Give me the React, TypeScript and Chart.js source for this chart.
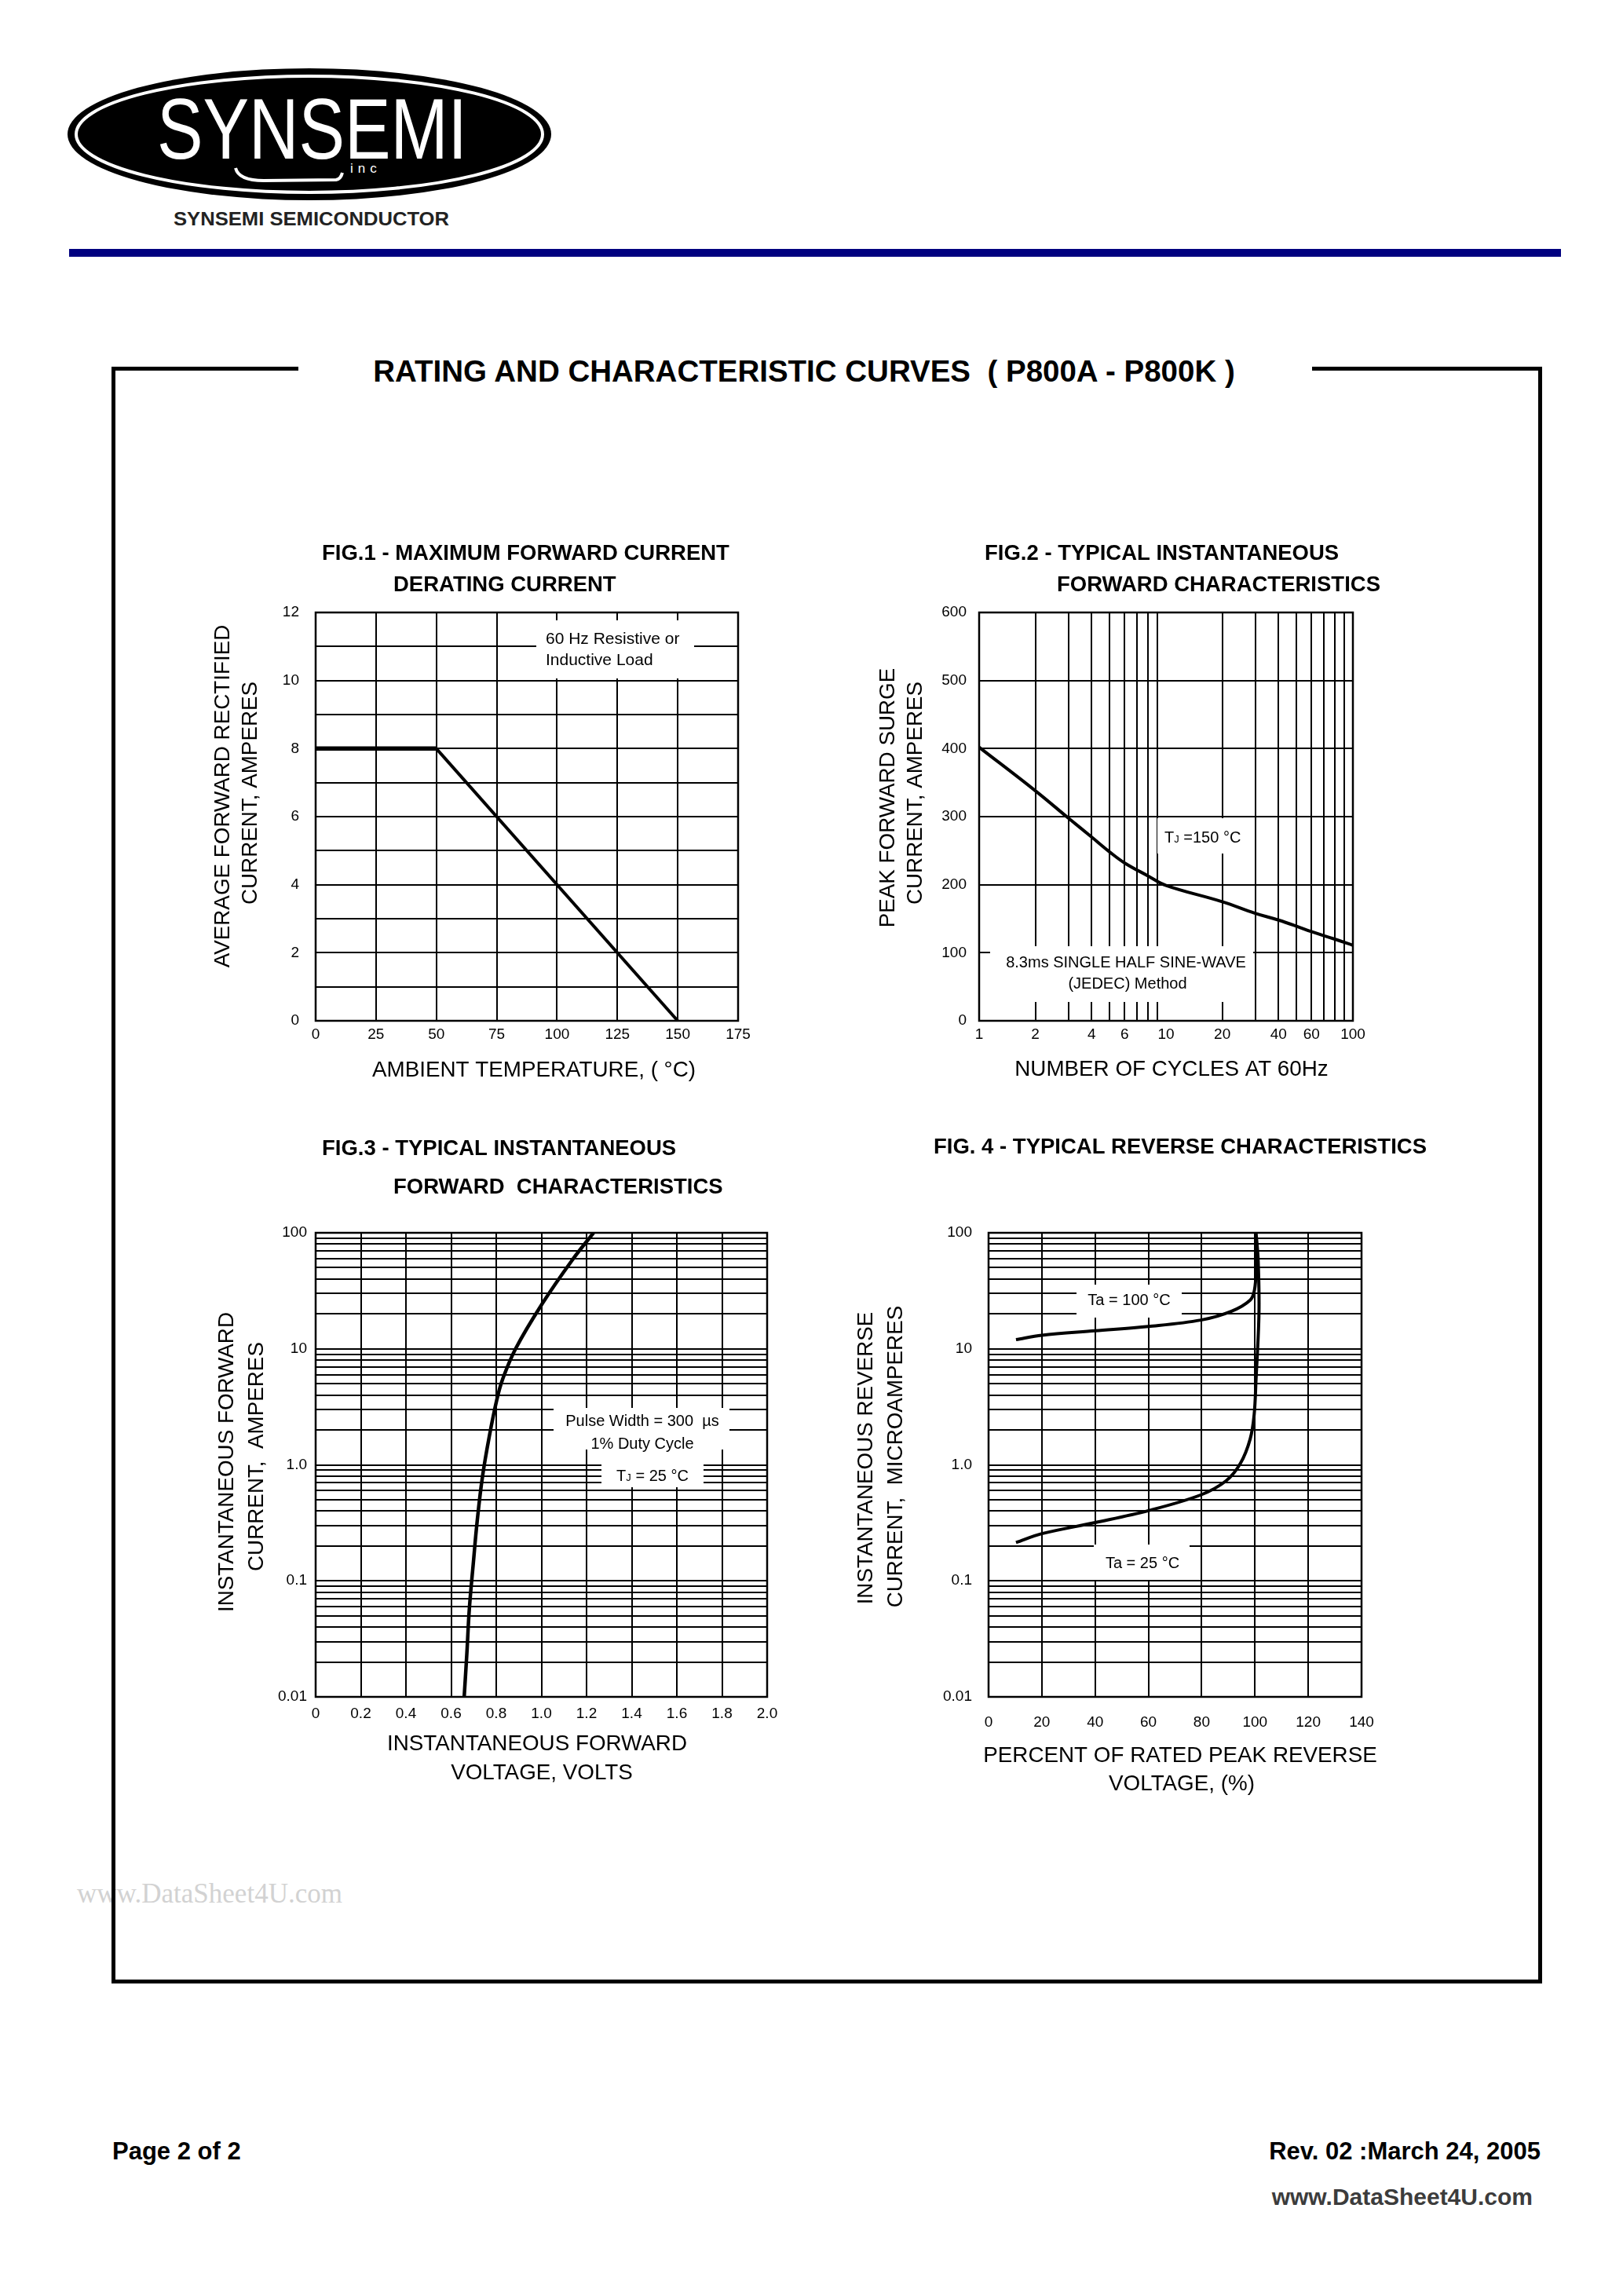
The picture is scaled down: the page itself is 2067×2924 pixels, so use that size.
import React, { useEffect, useRef } from 'react';
import { Chart, registerables } from 'chart.js';

Chart.register(...registerables);

const FONT = "'Liberation Sans', Arial, Helvetica, sans-serif";
const SERIF = "'Liberation Serif', 'Times New Roman', serif";

// ---------- FIG.1 data ----------
const FIG1_TEMPERATURE = [0, 50, 150];
const FIG1_CURRENT = [8, 8, 0];
const FIG1_Y_LABELED = [0, 2, 4, 6, 8, 10, 12];

// ---------- FIG.2 data ----------
const FIG2_CYCLES = [1, 2, 3, 4, 5, 6, 8, 10, 20, 30, 40, 50, 60, 80, 100];
const FIG2_SURGE = [402, 338, 298, 270, 248, 232, 213, 199, 175, 158, 148, 139, 131, 120, 111];
const FIG2_GRID_CYCLES = [1, 2, 3, 4, 5, 6, 7, 8, 9, 10, 20, 30, 40, 50, 60, 70, 80, 90, 100];
const FIG2_X_LABELED = [1, 2, 4, 6, 10, 20, 40, 60, 100];
const FIG2_HIDDEN_GRID = [10];

// ---------- FIG.3 data ----------
const FIG3_VOLTS = [0.658, 0.67, 0.681, 0.698, 0.716, 0.739, 0.769, 0.803, 0.828, 0.886, 1.002, 1.136, 1.231];
const FIG3_AMPS = [0.01, 0.024, 0.058, 0.139, 0.333, 0.79, 1.75, 3.67, 5.45, 10.05, 24.2, 58, 100];

// ---------- FIG.4 data ----------
const FIG4_PCT_100C = [10.3, 20, 40, 60, 79.7, 91.2, 98.2, 99.8, 100.5, 100.5, 100.2];
const FIG4_UA_100C = [12.0, 13.1, 14.3, 15.6, 17.7, 21.1, 26.3, 32, 50, 75, 100];
const FIG4_PCT_25C = [10.3, 20, 40, 60, 79.7, 89.2, 94.6, 98.2, 99.7, 100.4, 101.5, 101.2, 100.4];
const FIG4_UA_25C = [0.214, 0.255, 0.318, 0.403, 0.551, 0.729, 1.035, 1.67, 2.71, 5.45, 20.2, 57.8, 100];

// ---------- log grid shared by FIG.3 / FIG.4 ----------
const LOG_GRID = [
  0.01, 0.02, 0.03, 0.04, 0.05, 0.06, 0.07, 0.08, 0.09,
  0.1, 0.2, 0.3, 0.4, 0.5, 0.6, 0.7, 0.8, 0.9,
  1, 2, 3, 4, 5, 6, 7, 8, 9,
  10, 20, 30, 40, 50, 60, 70, 80, 90,
  100,
];
const LOG_LABEL_VALUES = [0.01, 0.1, 1, 10, 100];
const LOG_LABEL_TEXT = ['0.01', '0.1', '1.0', '10', '100'];

type Rect = { x: number; y: number; w: number; h: number };
type Part = { t: string; size: number };
type TextItem = {
  x: number;
  y: number;
  text?: string;
  size: number;
  bold?: boolean;
  align?: 'left' | 'center' | 'right';
  rotate?: boolean;
  parts?: Part[];
};
type FigSpec = {
  canvas: Rect;
  plot: Rect;
  texts: TextItem[];
  boxes: Rect[];
  datasets: any[];
  x: any;
  y: any;
};

const Y_AXIS_W = 60;
const X_AXIS_H = 45;
const FIG_TITLE = 27.5;
const AXIS_TITLE = 27.8;

function layoutPadding(canvas: Rect, plot: Rect) {
  return {
    left: plot.x - canvas.x - Y_AXIS_W,
    top: plot.y - canvas.y,
    right: canvas.x + canvas.w - (plot.x + plot.w),
    bottom: canvas.y + canvas.h - (plot.y + plot.h) - X_AXIS_H,
  };
}

function drawText(ctx: CanvasRenderingContext2D, item: TextItem, ox: number, oy: number) {
  const parts: Part[] = item.parts ?? [{ t: item.text ?? '', size: item.size }];
  const weight = item.bold ? 'bold ' : '';
  let total = 0;
  parts.forEach((p) => {
    ctx.font = `${weight}${p.size}px ${FONT}`;
    total += ctx.measureText(p.t).width;
  });
  const align = item.align ?? 'left';
  let x = align === 'center' ? -total / 2 : align === 'right' ? -total : 0;
  ctx.save();
  ctx.translate(item.x - ox, item.y - oy);
  if (item.rotate) ctx.rotate(-Math.PI / 2);
  ctx.fillStyle = '#000';
  ctx.textAlign = 'left';
  ctx.textBaseline = 'alphabetic';
  const base = 0.358 * item.size;
  parts.forEach((p) => {
    ctx.font = `${weight}${p.size}px ${FONT}`;
    ctx.fillText(p.t, x, base);
    x += ctx.measureText(p.t).width;
  });
  ctx.restore();
}

function decorPlugin(spec: FigSpec) {
  const ox = spec.canvas.x;
  const oy = spec.canvas.y;
  return {
    id: 'decor',
    beforeDatasetsDraw(chart: any) {
      const ctx = chart.ctx as CanvasRenderingContext2D;
      ctx.save();
      ctx.fillStyle = '#fff';
      spec.boxes.forEach((b) => ctx.fillRect(b.x - ox, b.y - oy, b.w, b.h));
      ctx.restore();
    },
    afterDraw(chart: any) {
      const ctx = chart.ctx as CanvasRenderingContext2D;
      const a = chart.chartArea;
      ctx.save();
      ctx.strokeStyle = '#000';
      ctx.lineWidth = 2.5;
      ctx.strokeRect(a.left, a.top, a.right - a.left, a.bottom - a.top);
      ctx.restore();
      spec.texts.forEach((t) => drawText(ctx, t, ox, oy));
    },
  };
}

const tickFont = { family: FONT, size: 19 };

function axis(isY: boolean, pad: number, extra: any) {
  const { ticks, grid, ...rest } = extra;
  return {
    grid: { color: '#000', lineWidth: 2, drawTicks: false, ...(grid || {}) },
    border: { display: false },
    ticks: {
      color: '#000',
      font: tickFont,
      padding: pad,
      autoSkip: false,
      maxRotation: 0,
      minRotation: 0,
      ...(ticks || {}),
    },
    afterFit: (s: any) => {
      if (isY) s.width = Y_AXIS_W;
      else s.height = X_AXIS_H;
    },
    ...rest,
  };
}

function logLabel(v: number) {
  const i = LOG_LABEL_VALUES.findIndex((d) => Math.abs(d - v) < d * 1e-6);
  return i >= 0 ? LOG_LABEL_TEXT[i] : '';
}

const lineStyle = { borderColor: '#000', pointRadius: 0, fill: false, borderWidth: 4 };

const FIG1: FigSpec = {
  canvas: { x: 240, y: 670, w: 770, h: 730 },
  plot: { x: 402, y: 780, w: 538, h: 520 },
  boxes: [{ x: 683, y: 790, w: 201, h: 74 }],
  texts: [
    { text: 'FIG.1 - MAXIMUM FORWARD CURRENT', x: 410, y: 703, size: FIG_TITLE, bold: true },
    { text: 'DERATING CURRENT', x: 501, y: 743, size: FIG_TITLE, bold: true },
    { text: 'AVERAGE FORWARD RECTIFIED', x: 282, y: 1014, size: AXIS_TITLE, rotate: true, align: 'center' },
    { text: 'CURRENT, AMPERES', x: 317, y: 1010, size: AXIS_TITLE, rotate: true, align: 'center' },
    { text: 'AMBIENT TEMPERATURE, ( °C)', x: 680, y: 1361, size: AXIS_TITLE, align: 'center' },
    { text: '60 Hz Resistive or', x: 695, y: 812, size: 21 },
    { text: 'Inductive Load', x: 695, y: 839, size: 21 },
  ],
  datasets: [
    {
      ...lineStyle,
      data: FIG1_TEMPERATURE.map((x, i) => ({ x, y: FIG1_CURRENT[i] })),
      tension: 0,
      segment: { borderWidth: (c: any) => (c.p0DataIndex === 0 ? 5.5 : 4) },
    },
  ],
  x: axis(false, 6, { type: 'linear', min: 0, max: 175, ticks: { stepSize: 25 } }),
  y: axis(true, 21, {
    type: 'linear',
    min: 0,
    max: 12,
    ticks: { stepSize: 1, callback: (v: any) => (FIG1_Y_LABELED.includes(Number(v)) ? String(v) : '') },
  }),
};

const FIG2: FigSpec = {
  canvas: { x: 1090, y: 670, w: 720, h: 730 },
  plot: { x: 1247, y: 780, w: 476, h: 520 },
  boxes: [
    { x: 1474, y: 1042, w: 122, h: 45 },
    { x: 1261, y: 1205, w: 335, h: 71 },
  ],
  texts: [
    { text: 'FIG.2 - TYPICAL INSTANTANEOUS', x: 1254, y: 703, size: FIG_TITLE, bold: true },
    { text: 'FORWARD CHARACTERISTICS', x: 1346, y: 743, size: FIG_TITLE, bold: true },
    { text: 'PEAK FORWARD SURGE', x: 1129, y: 1016, size: AXIS_TITLE, rotate: true, align: 'center' },
    { text: 'CURRENT, AMPERES', x: 1164, y: 1010, size: AXIS_TITLE, rotate: true, align: 'center' },
    { text: 'NUMBER OF CYCLES AT 60Hz', x: 1492, y: 1360, size: AXIS_TITLE, align: 'center' },
    {
      x: 1483,
      y: 1066,
      size: 20,
      parts: [
        { t: 'T', size: 20 },
        { t: 'J', size: 13 },
        { t: ' =150 °C', size: 20 },
      ],
    },
    { text: '8.3ms SINGLE HALF SINE-WAVE', x: 1434, y: 1225, size: 20, align: 'center' },
    { text: '(JEDEC) Method', x: 1436, y: 1252, size: 20, align: 'center' },
  ],
  datasets: [
    {
      ...lineStyle,
      data: FIG2_CYCLES.map((x, i) => ({ x, y: FIG2_SURGE[i] })),
      tension: 0.4,
    },
  ],
  x: axis(false, 6, {
    type: 'logarithmic',
    min: 1,
    max: 100,
    afterBuildTicks: (s: any) => {
      s.ticks = FIG2_GRID_CYCLES.map((v) => ({ value: v }));
    },
    ticks: { callback: (v: any) => (FIG2_X_LABELED.includes(Number(v)) ? String(v) : '') },
    grid: {
      color: (c: any) => (c.tick && FIG2_HIDDEN_GRID.includes(c.tick.value) ? 'rgba(0,0,0,0)' : '#000'),
    },
  }),
  y: axis(true, 16, { type: 'linear', min: 0, max: 600, ticks: { stepSize: 100 } }),
};

const FIG3: FigSpec = {
  canvas: { x: 240, y: 1430, w: 770, h: 870 },
  plot: { x: 402, y: 1570, w: 575, h: 591 },
  boxes: [
    { x: 705, y: 1793, w: 224, h: 53 },
    { x: 766, y: 1846, w: 130, h: 48 },
  ],
  texts: [
    { text: 'FIG.3 - TYPICAL INSTANTANEOUS', x: 410, y: 1461, size: FIG_TITLE, bold: true },
    { text: 'FORWARD  CHARACTERISTICS', x: 501, y: 1510, size: FIG_TITLE, bold: true },
    { text: 'INSTANTANEOUS FORWARD', x: 287, y: 1862, size: AXIS_TITLE, rotate: true, align: 'center' },
    { text: 'CURRENT,  AMPERES', x: 325, y: 1855, size: AXIS_TITLE, rotate: true, align: 'center' },
    { text: 'INSTANTANEOUS FORWARD', x: 684, y: 2219, size: AXIS_TITLE, align: 'center' },
    { text: 'VOLTAGE, VOLTS', x: 690, y: 2256, size: AXIS_TITLE, align: 'center' },
    { text: 'Pulse Width = 300  µs', x: 818, y: 1809, size: 20, align: 'center' },
    { text: '1% Duty Cycle', x: 818, y: 1838, size: 20, align: 'center' },
    {
      x: 831,
      y: 1879,
      size: 20,
      align: 'center',
      parts: [
        { t: 'T', size: 20 },
        { t: 'J', size: 13 },
        { t: ' = 25 °C', size: 20 },
      ],
    },
  ],
  datasets: [
    {
      ...lineStyle,
      borderWidth: 4.5,
      data: FIG3_VOLTS.map((x, i) => ({ x, y: FIG3_AMPS[i] })),
      tension: 0.4,
    },
  ],
  x: axis(false, 10, {
    type: 'linear',
    min: 0,
    max: 2,
    ticks: { stepSize: 0.2, callback: (v: any) => (Number(v) === 0 ? '0' : Number(v).toFixed(1)) },
  }),
  y: axis(true, 11, {
    type: 'logarithmic',
    min: 0.01,
    max: 100,
    afterBuildTicks: (s: any) => {
      s.ticks = LOG_GRID.map((v) => ({ value: v }));
    },
    ticks: { callback: (v: any) => logLabel(Number(v)) },
  }),
};

const FIG4: FigSpec = {
  canvas: { x: 1070, y: 1430, w: 780, h: 870 },
  plot: { x: 1259, y: 1570, w: 475, h: 591 },
  boxes: [
    { x: 1371, y: 1636, w: 134, h: 42 },
    { x: 1393, y: 1967, w: 122, h: 45 },
  ],
  texts: [
    { text: 'FIG. 4 - TYPICAL REVERSE CHARACTERISTICS', x: 1189, y: 1459, size: FIG_TITLE, bold: true },
    { text: 'INSTANTANEOUS REVERSE', x: 1101, y: 1857, size: AXIS_TITLE, rotate: true, align: 'center' },
    { text: 'CURRENT,  MICROAMPERES', x: 1139, y: 1855, size: AXIS_TITLE, rotate: true, align: 'center' },
    { text: 'PERCENT OF RATED PEAK REVERSE', x: 1503, y: 2234, size: AXIS_TITLE, align: 'center' },
    { text: 'VOLTAGE, (%)', x: 1505, y: 2270, size: AXIS_TITLE, align: 'center' },
    { text: 'Ta = 100 °C', x: 1438, y: 1655, size: 20, align: 'center' },
    { text: 'Ta = 25 °C', x: 1455, y: 1990, size: 20, align: 'center' },
  ],
  datasets: [
    {
      ...lineStyle,
      data: FIG4_PCT_100C.map((x, i) => ({ x, y: FIG4_UA_100C[i] })),
      tension: 0.35,
    },
    {
      ...lineStyle,
      data: FIG4_PCT_25C.map((x, i) => ({ x, y: FIG4_UA_25C[i] })),
      tension: 0.35,
    },
  ],
  x: axis(false, 21, { type: 'linear', min: 0, max: 140, ticks: { stepSize: 20 } }),
  y: axis(true, 21, {
    type: 'logarithmic',
    min: 0.01,
    max: 100,
    afterBuildTicks: (s: any) => {
      s.ticks = LOG_GRID.map((v) => ({ value: v }));
    },
    ticks: { callback: (v: any) => logLabel(Number(v)) },
  }),
};

function makeConfig(spec: FigSpec): any {
  return {
    type: 'line',
    data: { datasets: spec.datasets },
    options: {
      animation: false,
      responsive: false,
      maintainAspectRatio: false,
      devicePixelRatio: 1,
      events: [],
      layout: { padding: layoutPadding(spec.canvas, spec.plot) },
      plugins: {
        legend: { display: false },
        tooltip: { enabled: false },
        title: { display: false },
      },
      scales: { x: spec.x, y: spec.y },
    },
    plugins: [decorPlugin(spec)],
  };
}

function FigCanvas({ spec }: { spec: FigSpec }) {
  const ref = useRef<HTMLCanvasElement | null>(null);
  useEffect(() => {
    if (!ref.current) return;
    const chart = new Chart(ref.current, makeConfig(spec));
    return () => chart.destroy();
  }, [spec]);
  const c = spec.canvas;
  return (
    <canvas
      ref={ref}
      width={c.w}
      height={c.h}
      style={{ position: 'absolute', left: c.x, top: c.y, width: c.w, height: c.h }}
    />
  );
}

function Logo() {
  return (
    <svg width={760} height={310} style={{ position: 'absolute', left: 0, top: 0 }}>
      <ellipse cx={394} cy={171} rx={308} ry={84} fill="#000" />
      <ellipse cx={394} cy={171} rx={297} ry={74} fill="none" stroke="#fff" strokeWidth={4} />
      <text
        x={200}
        y={202}
        fill="#fff"
        fontFamily={FONT}
        fontSize={110}
        textLength={395}
        lengthAdjust="spacingAndGlyphs"
      >
        SYNSEMI
      </text>
      <path d="M300 214 Q304 230 336 230 L428 229 Q434 228 436 220" stroke="#fff" strokeWidth={4} fill="none" />
      <text x={446} y={220} fill="#fff" fontFamily={FONT} fontSize={17} letterSpacing={6}>
        inc
      </text>
      <text
        x={221}
        y={287}
        fill="#222"
        fontFamily={FONT}
        fontWeight="bold"
        fontSize={24}
        textLength={351}
        lengthAdjust="spacingAndGlyphs"
      >
        SYNSEMI SEMICONDUCTOR
      </text>
    </svg>
  );
}

const abs = (s: React.CSSProperties): React.CSSProperties => ({ position: 'absolute', ...s });

export default function App() {
  return (
    <div
      style={{
        position: 'absolute',
        left: 0,
        top: 0,
        width: 2067,
        height: 2924,
        background: '#fff',
        overflow: 'hidden',
        fontFamily: FONT,
      }}
    >
      <Logo />
      <div style={abs({ left: 88, top: 317, width: 1900, height: 10, background: '#000080' })} />

      {/* watermark (behind frame) */}
      <div
        style={abs({
          left: 98,
          top: 2394,
          fontFamily: SERIF,
          fontSize: 35,
          lineHeight: 1,
          color: '#d2d2d2',
          whiteSpace: 'nowrap',
        })}
      >
        www.DataSheet4U.com
      </div>

      {/* frame */}
      <div style={abs({ left: 142, top: 467, width: 238, height: 5, background: '#000' })} />
      <div style={abs({ left: 1671, top: 467, width: 293, height: 5, background: '#000' })} />
      <div style={abs({ left: 142, top: 467, width: 5, height: 2059, background: '#000' })} />
      <div style={abs({ left: 1959, top: 467, width: 5, height: 2059, background: '#000' })} />
      <div style={abs({ left: 142, top: 2521, width: 1822, height: 5, background: '#000' })} />

      <div
        style={abs({
          left: 1024,
          top: 454,
          transform: 'translateX(-50%)',
          fontSize: 38.5,
          fontWeight: 'bold',
          lineHeight: 1,
          whiteSpace: 'pre',
          color: '#000',
        })}
      >
        {'RATING AND CHARACTERISTIC CURVES  ( P800A - P800K )'}
      </div>

      <FigCanvas spec={FIG1} />
      <FigCanvas spec={FIG2} />
      <FigCanvas spec={FIG3} />
      <FigCanvas spec={FIG4} />

      <div style={abs({ left: 143, top: 2724, fontSize: 31, fontWeight: 'bold', lineHeight: 1, whiteSpace: 'nowrap' })}>
        Page 2 of 2
      </div>
      <div style={abs({ right: 105, top: 2724, fontSize: 31, fontWeight: 'bold', lineHeight: 1, whiteSpace: 'nowrap' })}>
        Rev. 02 :March 24, 2005
      </div>
      <div
        style={abs({
          right: 115,
          top: 2783,
          fontSize: 30,
          fontWeight: 'bold',
          lineHeight: 1,
          whiteSpace: 'nowrap',
          color: '#3c3c3c',
        })}
      >
        www.DataSheet4U.com
      </div>
    </div>
  );
}
